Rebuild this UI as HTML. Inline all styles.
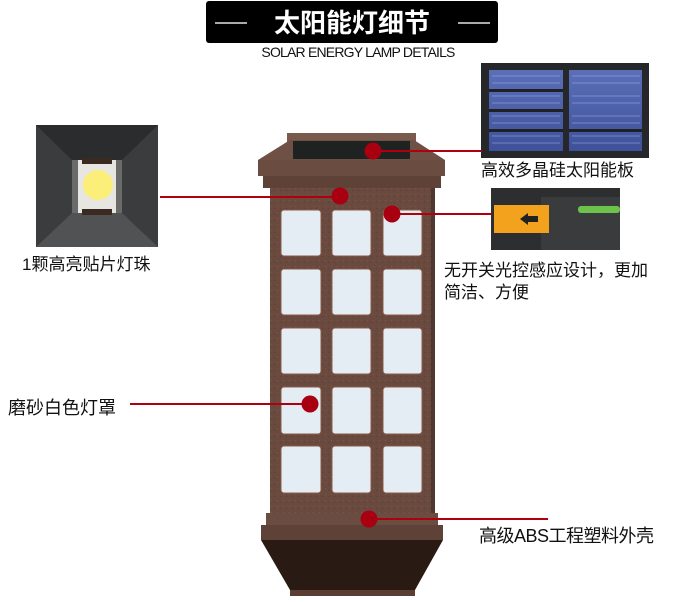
<!DOCTYPE html>
<html><head><meta charset="utf-8"><style>
body{margin:0;background:#fff;width:700px;height:602px;overflow:hidden}
svg{display:block}
text{font-family:"Liberation Sans","Noto Sans CJK SC",sans-serif}
</style></head><body>
<svg width="700" height="602" viewBox="0 0 700 602" xmlns="http://www.w3.org/2000/svg">
<defs>
<linearGradient id="sol" x1="0" y1="0" x2="0" y2="1"><stop offset="0" stop-color="#5b6fb8"/><stop offset="1" stop-color="#3e519a"/></linearGradient>
<pattern id="spk" width="6" height="6" patternUnits="userSpaceOnUse"><rect width="6" height="6" fill="#6a4a3f"/><rect x="1" y="2" width="1" height="1" fill="#7b5a4e"/><rect x="4" y="4" width="1" height="1" fill="#5a3d33"/></pattern>
</defs>
<!-- title -->
<rect x="206" y="1" width="292" height="42" rx="3" fill="#000"/>
<rect x="215" y="22" width="32" height="2" fill="#aaa"/>
<rect x="458" y="22" width="32" height="2" fill="#aaa"/>
<text x="352" y="32" font-size="26" font-weight="bold" fill="#fff" text-anchor="middle">太阳能灯细节</text>
<text x="358" y="57" font-size="14" fill="#111" text-anchor="middle" letter-spacing="-0.8">SOLAR ENERGY LAMP DETAILS</text>

<!-- LED photo -->
<rect x="36" y="125" width="122" height="122" fill="#3a3c3e"/>
<polygon points="36,125 158,125 122,160 72,160" fill="#2a2c2e"/>
<polygon points="36,247 158,247 122,213 72,213" fill="#505254"/>
<rect x="72" y="160" width="50" height="53" fill="#6a6a6a"/>
<rect x="78" y="160" width="38" height="53" fill="#e8e6e0"/>
<rect x="82" y="158" width="30" height="6" fill="#3a2a22"/>
<rect x="82" y="209" width="30" height="6" fill="#3a2a22"/>
<circle cx="98" cy="185" r="15" fill="#fbef7a"/>
<text x="22" y="270" font-size="17" fill="#111">1颗高亮贴片灯珠</text>

<!-- solar photo -->
<rect x="481" y="63" width="168" height="95" fill="#25272b"/>
<rect x="489" y="70" width="74" height="81" fill="url(#sol)"/>
<rect x="569" y="70" width="73" height="81" fill="url(#sol)"/>
<g stroke="#9fb0e0" stroke-width="0.7" opacity=".7">
<line x1="492" y1="76" x2="560" y2="76"/><line x1="492" y1="83" x2="560" y2="83"/><line x1="492" y1="96" x2="560" y2="96"/><line x1="492" y1="103" x2="560" y2="103"/><line x1="492" y1="116" x2="560" y2="116"/><line x1="492" y1="123" x2="560" y2="123"/><line x1="492" y1="136" x2="560" y2="136"/><line x1="492" y1="143" x2="560" y2="143"/>
<line x1="572" y1="76" x2="640" y2="76"/><line x1="572" y1="83" x2="640" y2="83"/><line x1="572" y1="96" x2="640" y2="96"/><line x1="572" y1="103" x2="640" y2="103"/><line x1="572" y1="116" x2="640" y2="116"/><line x1="572" y1="123" x2="640" y2="123"/><line x1="572" y1="136" x2="640" y2="136"/><line x1="572" y1="143" x2="640" y2="143"/>
</g>
<rect x="489" y="89" width="74" height="3" fill="#1e2024"/><rect x="489" y="109" width="74" height="3" fill="#1e2024"/><rect x="489" y="129" width="74" height="3" fill="#1e2024"/>
<rect x="569" y="129" width="73" height="3" fill="#1e2024"/>
<text x="481" y="176" font-size="17" fill="#111">高效多晶硅太阳能板</text>

<!-- switch photo -->
<rect x="491" y="188" width="129" height="62" fill="#2d2e30"/>
<rect x="541" y="197" width="79" height="53" fill="#3a3b3d"/>
<rect x="578" y="206" width="42" height="7" rx="3" fill="#6cc24a"/>
<rect x="494" y="205" width="55" height="28" fill="#f3a21e"/>
<polygon points="520,219 528,213 528,216 538,216 538,222 528,222 528,225" fill="#222"/>
<text x="444" y="276" font-size="17" fill="#111">无开关光控感应设计，更加</text>
<text x="444" y="298" font-size="17" fill="#111">简洁、方便</text>

<text x="8" y="414" font-size="18" fill="#111">磨砂白色灯罩</text>
<text x="479" y="542" font-size="18" fill="#111" letter-spacing="-0.5">高级ABS工程塑料外壳</text>

<!-- lamp -->
<rect x="287" y="133" width="129" height="9" fill="#7a5a4c"/>
<polygon points="290,140 414,140 445,160 258,160" fill="#6e5044"/>
<rect x="293" y="141" width="117" height="18" fill="#1e2220"/>
<rect x="258" y="160" width="187" height="16" fill="#6a4c40"/>
<rect x="263" y="176" width="178" height="12" fill="#5e4238"/>
<rect x="270" y="188" width="163" height="327" fill="url(#spk)"/>
<rect x="431" y="188" width="4" height="327" fill="#4e3830"/>
<g fill="#e4edf3" stroke="#8a5a48" stroke-width="1">
<rect x="281" y="210" width="40" height="46" rx="3"/><rect x="332" y="210" width="39" height="46" rx="3"/><rect x="383" y="210" width="39" height="46" rx="3"/>
<rect x="281" y="269" width="40" height="46" rx="3"/><rect x="332" y="269" width="39" height="46" rx="3"/><rect x="383" y="269" width="39" height="46" rx="3"/>
<rect x="281" y="328" width="40" height="46" rx="3"/><rect x="332" y="328" width="39" height="46" rx="3"/><rect x="383" y="328" width="39" height="46" rx="3"/>
<rect x="281" y="387" width="40" height="47" rx="3"/><rect x="332" y="387" width="39" height="47" rx="3"/><rect x="383" y="387" width="39" height="47" rx="3"/>
<rect x="281" y="446" width="40" height="47" rx="3"/><rect x="332" y="446" width="39" height="47" rx="3"/><rect x="383" y="446" width="39" height="47" rx="3"/>
</g>
<rect x="266" y="513" width="172" height="12" fill="#6a4c40"/>
<rect x="261" y="525" width="182" height="15" fill="#5e4238"/>
<polygon points="261,540 443,540 415,590 290,590" fill="#2a1a14"/>
<rect x="290" y="590" width="125" height="6" fill="#5a3e34"/>

<!-- connectors -->
<g stroke="#b0000f" stroke-width="2">
<line x1="373" y1="151" x2="482" y2="151"/>
<line x1="160" y1="197" x2="340" y2="197"/>
<line x1="392" y1="214" x2="492" y2="214"/>
<line x1="130" y1="404" x2="310" y2="404"/>
<line x1="369" y1="519" x2="548" y2="519"/>
</g>
<g fill="#a80010">
<circle cx="373" cy="151" r="8.5"/>
<circle cx="340" cy="196" r="8.5"/>
<circle cx="392" cy="214" r="8.5"/>
<circle cx="310" cy="404" r="8.5"/>
<circle cx="369" cy="519" r="8.5"/>
</g>
</svg>
</body></html>
